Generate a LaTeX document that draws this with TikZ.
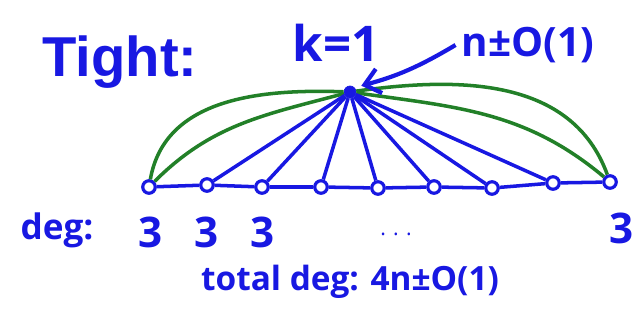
\documentclass[tikz,border=0pt]{standalone}
\usepackage{fontspec}
\setmainfont{Open Sans}
\newfontfamily\titlefont{Liberation Sans}
\usetikzlibrary{arrows.meta,positioning}
\definecolor{inkblue}{RGB}{24,24,226}
\definecolor{inkgreen}{RGB}{34,128,40}
\tikzset{
  path vertex/.style={
    circle,
    draw=inkblue,
    fill=white,
    line width=1.8pt,
    minimum size=0.25cm,
    inner sep=0pt
  },
  hub vertex/.style={
    circle,
    draw=inkblue,
    fill=inkblue,
    minimum size=0.24cm,
    inner sep=0pt
  },
  path edge/.style={
    draw=inkblue,
    line width=2pt
  },
  hub edge/.style={
    draw=inkblue,
    line width=2pt
  },
  double edge/.style={
    draw=inkgreen,
    line width=2pt
  },
  note/.style={
    text=inkblue,
    inner sep=0pt,
    font=\bfseries\fontsize{22}{26}\selectfont
  },
  arrow/.style={
    draw=inkblue,
    line width=2.4pt,
    -{Straight Barb[length=3mm,width=5mm]}
  }
}

\begin{document}
\begin{tikzpicture}[x=0.02cm, y=-0.02cm]
  \useasboundingbox (0,0) rectangle (634,325);

  % Title and labels
  \node[note, font=\titlefont\bfseries\fontsize{32}{36}\selectfont] (title) at (120,62) {Tight:};
  \node[note, font=\bfseries\fontsize{28}{32}\selectfont] (k) at (336,43) {k=1};
  \node[note, font=\bfseries\fontsize{23}{26}\selectfont] (size) at (528,45) {n±O(1)};

  % Hub vertex
  \node[hub vertex] (hub) at (350,92) {};

  % Path vertices
  \node[path vertex] (v1) at (149,187) {};
  \node[path vertex] (v2) at (207,185) {};
  \node[path vertex] (v3) at (262,187) {};
  \node[path vertex] (v4) at (321,187) {};
  \node[path vertex] (v5) at (378,188) {};
  \node[path vertex] (v6) at (434,187) {};
  \node[path vertex] (v7) at (492,188) {};
  \node[path vertex] (v8) at (553,183) {};
  \node[path vertex] (v9) at (610,182) {};

  % Green double edges to the ends
  \draw[double edge] (hub) to[out=178, in=80] (v1);
  \draw[double edge] (hub) to[out=195, in=45] (v1);
  \draw[double edge] (hub) to[out=8, in=110] (v9);
  \draw[double edge] (hub) to[out=-8, in=140] (v9);

  % Path along the bottom
  \draw[path edge] (v1) -- (v2) -- (v3) -- (v4) -- (v5) -- (v6) -- (v7) -- (v8) -- (v9);

  % Spokes from the hub
  \draw[hub edge] (hub) -- (v2);
  \draw[hub edge] (hub) -- (v3);
  \draw[hub edge] (hub) -- (v4);
  \draw[hub edge] (hub) -- (v5);
  \draw[hub edge] (hub) -- (v6);
  \draw[hub edge] (hub) -- (v7);
  \draw[hub edge] (hub) -- (v8);

  % Pointer to the hub
  \draw[arrow, shorten >=4pt] (size.west) ++(-6,0) to[bend left=8] (hub.north east);

  % Degrees
  \node[note, font=\bfseries\fontsize{20}{24}\selectfont] (deglabel) at (57,230) {deg:};
  \node[note, font=\bfseries\fontsize{24}{28}\selectfont] (d1) at (151,232) {3};
  \node[note, font=\bfseries\fontsize{24}{28}\selectfont] (d2) at (207,232) {3};
  \node[note, font=\bfseries\fontsize{24}{28}\selectfont] (d3) at (263,232) {3};
  \node[note, font=\fontsize{12}{14}\selectfont] (dots) at (396,234) {. . .};
  \node[note, font=\bfseries\fontsize{24}{28}\selectfont] (d9) at (622,228) {3};
  \node[note, font=\bfseries\fontsize{19}{22}\selectfont] (total) at (350,282) {total deg: 4n±O(1)};
\end{tikzpicture}
\end{document}
